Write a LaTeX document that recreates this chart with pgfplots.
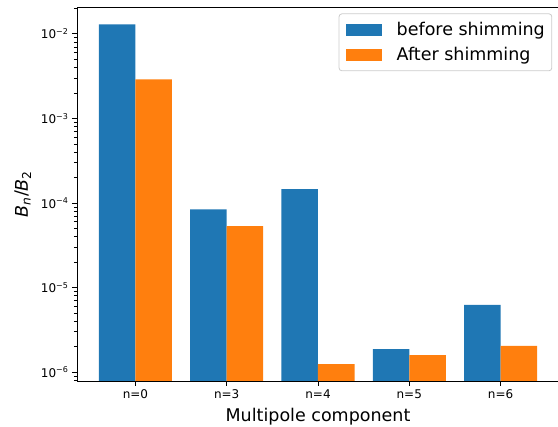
\documentclass[border=0pt]{standalone}
\usepackage{pgfplots}
\pgfplotsset{compat=1.18}
\usepackage{fontspec}
\setmainfont{DejaVu Sans}
\definecolor{tabblue}{HTML}{1F77B4}
\definecolor{taborange}{HTML}{FF7F0E}

\begin{document}
\begin{tikzpicture}
\path[use as bounding box] (-77pt,-46pt) rectangle (481pt,381pt);
\begin{axis}[
    at={(0pt,0pt)}, anchor=south west,
    scale only axis,
    width=482pt, height=374pt,
    ymode=log, log origin=infty,
    xmin=-0.64, xmax=4.64,
    ymin=7.89e-7, ymax=2.08e-2,
    xtick={0,1,2,3,4},
    xticklabels={n=0,n=3,n=4,n=5,n=6},
    ytick={1e-6,1e-5,1e-4,1e-3,1e-2},
    yticklabels={10\textsuperscript{−6},10\textsuperscript{−5},10\textsuperscript{−4},10\textsuperscript{−3},10\textsuperscript{−2}},
    minor ytick={8e-7,9e-7,
        2e-6,3e-6,4e-6,5e-6,6e-6,7e-6,8e-6,9e-6,
        2e-5,3e-5,4e-5,5e-5,6e-5,7e-5,8e-5,9e-5,
        2e-4,3e-4,4e-4,5e-4,6e-4,7e-4,8e-4,9e-4,
        2e-3,3e-3,4e-3,5e-3,6e-3,7e-3,8e-3,9e-3,2e-2},
    tick pos=left,
    tick align=outside,
    major tick length=5pt, minor tick length=3pt,
    tick style={black, line width=0.9pt},
    axis line style={line width=0.9pt},
    ticklabel style={font=\fontsize{12}{14}\selectfont},
    xlabel={Multipole component},
    ylabel={\textit{B}\textsubscript{\textit{n}}/\textit{B}\textsubscript{2}},
    label style={font=\fontsize{17.5}{21}\selectfont},
    xlabel style={at={(axis description cs:0.5,-0.107)}, anchor=base},
    ylabel style={at={(axis description cs:-0.1017,0.5)}, anchor=base},
    legend style={at={(axis description cs:0.986,0.983)}, anchor=north east,
        draw=black!20, line width=0.8pt, rounded corners=3pt, fill=white,
        font=\fontsize{17.5}{21}\selectfont,
        nodes={inner sep=0pt},
        inner xsep=7pt, inner ysep=8.5pt, row sep=10.5pt, column sep=14.7pt,
        cells={anchor=west}},
    legend image code/.code={\fill[#1, sharp corners] (0pt,-6pt) rectangle (36pt,6pt);},
]
\addplot[ybar, bar width=0.4, bar shift=-0.2, fill=tabblue, draw=none]
    coordinates {(0,1.30e-2) (1,8.43e-5) (2,1.46e-4) (3,1.88e-6) (4,6.25e-6)};
\addplot[ybar, bar width=0.4, bar shift=0.2, fill=taborange, draw=none]
    coordinates {(0,2.91e-3) (1,5.35e-5) (2,1.25e-6) (3,1.60e-6) (4,2.05e-6)};
\legend{before shimming, After shimming}
\end{axis}
\end{tikzpicture}
\end{document}
